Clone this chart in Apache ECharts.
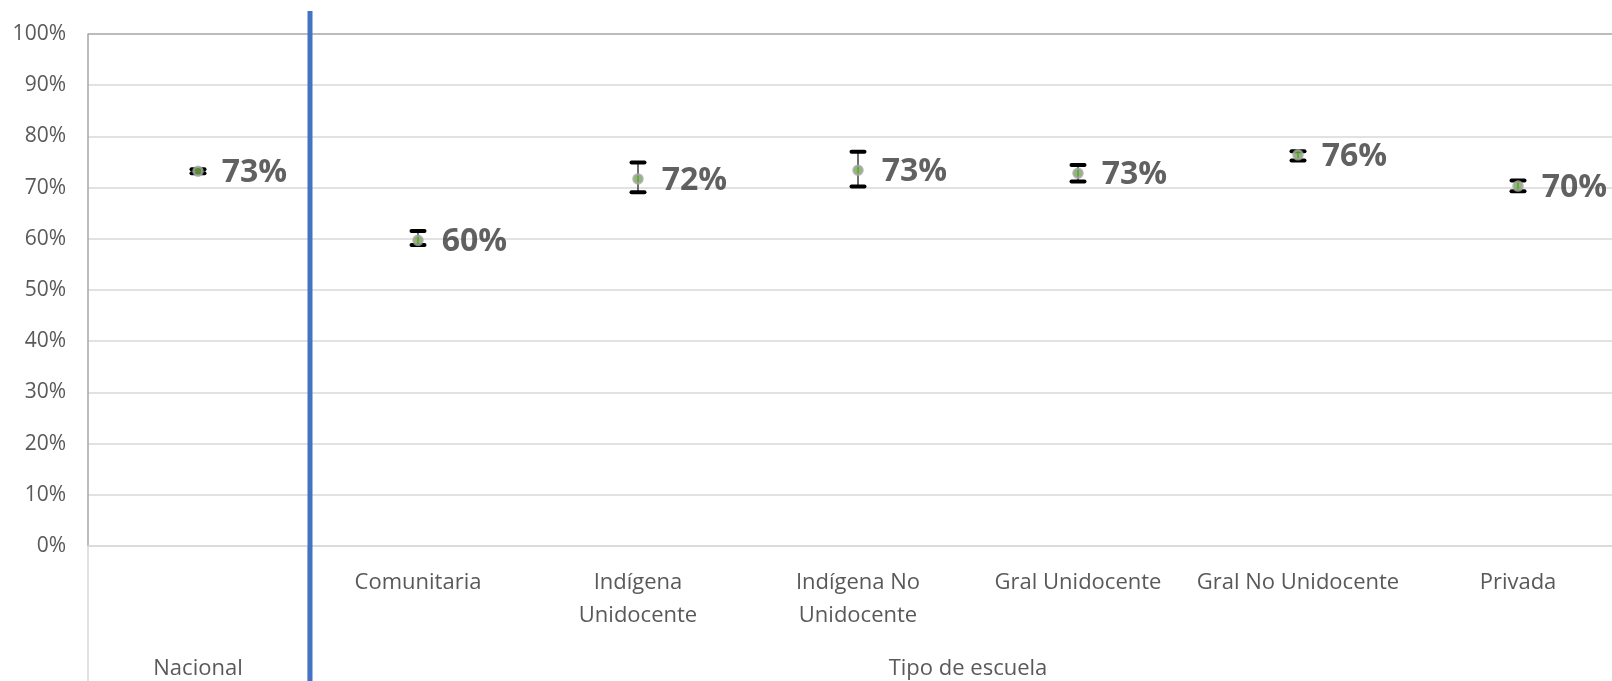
<!DOCTYPE html>
<html>
<head>
<meta charset="utf-8">
<script src="https://cdn.jsdelivr.net/npm/echarts@6/dist/echarts.min.js"></script>
<style>
  html, body { margin: 0; padding: 0; background: #fff; }
  #chart { width: 1612px; height: 681px; }
</style>
</head>
<body>
<div id="chart"></div>
<script>
// first-level categories (Nacional has no first-level label)
var categories = ['', 'Comunitaria', 'Indígena\nUnidocente', 'Indígena No\nUnidocente', 'Gral Unidocente', 'Gral No Unidocente', 'Privada']
// second-level groups: name, first category index, end index
var groupNames = ['Nacional', 'Tipo de escuela']
var groupStart = [0, 1]
var groupEnd = [1, 7]
// estimate and confidence interval (share)
var values = [0.732, 0.597, 0.717, 0.734, 0.728, 0.764, 0.703]
var lower = [0.728, 0.588, 0.691, 0.702, 0.712, 0.753, 0.693]
var upper = [0.736, 0.615, 0.749, 0.770, 0.744, 0.771, 0.714]
var yTicks = [0, 0.1, 0.2, 0.3, 0.4, 0.5, 0.6, 0.7, 0.8, 0.9, 1]

var font = 'Open Sans'

var chart = echarts.init(document.getElementById('chart'))

var errData = values.map(function (v, i) {
  return [i, lower[i], upper[i]]
})

var option = {
  animation: false,
  grid: {
    left: 88,
    top: 34,
    width: 1540,
    height: 512,
    outerBoundsMode: 'none'
  },
  xAxis: [
    {
      type: 'category',
      data: categories,
      boundaryGap: true,
      axisLine: { show: true, lineStyle: { color: '#d9d9d9', width: 1.5 } },
      axisTick: {
        show: true,
        length: 136,
        interval: function (index) {
          return index === 0 || index === 1
        },
        lineStyle: { color: '#d9d9d9', width: 1.5 }
      },
      axisLabel: {
        interval: 0,
        margin: 20,
        color: '#595959',
        fontFamily: font,
        fontSize: 22,
        lineHeight: 33
      }
    },
    {
      type: 'value',
      min: 0,
      max: 7,
      interval: 0.5,
      position: 'bottom',
      axisLine: { show: false },
      axisTick: { show: false },
      splitLine: { show: false },
      axisLabel: {
        margin: 110,
        color: '#595959',
        fontFamily: font,
        fontSize: 22,
        lineHeight: 26,
        formatter: function (v) {
          for (var g = 0; g < groupNames.length; g++) {
            if ((groupStart[g] + groupEnd[g]) / 2 === v) return groupNames[g]
          }
          return ''
        }
      }
    }
  ],
  yAxis: {
    type: 'value',
    min: yTicks[0],
    max: yTicks[yTicks.length - 1],
    interval: 0.1,
    axisLine: { show: true, lineStyle: { color: '#a6a6a6', width: 1.5 } },
    axisTick: { show: false },
    splitLine: {
      lineStyle: {
        color: ['#d9d9d9', '#d9d9d9', '#d9d9d9', '#d9d9d9', '#d9d9d9', '#d9d9d9', '#d9d9d9', '#d9d9d9', '#d9d9d9', '#d9d9d9', '#a6a6a6'],
        width: 1.5
      }
    },
    axisLabel: {
      margin: 22,
      color: '#595959',
      fontFamily: font,
      fontSize: 21,
      formatter: function (v) {
        return Math.round(v * 100) + '%'
      }
    }
  },
  series: [
    {
      type: 'custom',
      xAxisIndex: 0,
      data: errData,
      z: 3,
      renderItem: function (params, api) {
        var x = api.value(0)
        var lo = api.coord([x, api.value(1)])
        var hi = api.coord([x, api.value(2)])
        var cw = 13
        return {
          type: 'group',
          children: [
            {
              type: 'line',
              shape: { x1: lo[0], y1: lo[1], x2: hi[0], y2: hi[1] },
              style: { stroke: '#404040', lineWidth: 1.5 }
            },
            {
              type: 'line',
              shape: { x1: lo[0] - cw / 2, y1: lo[1], x2: lo[0] + cw / 2, y2: lo[1] },
              style: { stroke: '#000', lineWidth: 4, lineCap: 'round' }
            },
            {
              type: 'line',
              shape: { x1: hi[0] - cw / 2, y1: hi[1], x2: hi[0] + cw / 2, y2: hi[1] },
              style: { stroke: '#000', lineWidth: 4, lineCap: 'round' }
            }
          ]
        }
      }
    },
    {
      type: 'scatter',
      xAxisIndex: 0,
      data: values,
      z: 5,
      symbol: 'circle',
      symbolSize: 9,
      itemStyle: {
        color: '#70ad47',
        borderColor: '#a5a5a5',
        borderWidth: 2.5
      },
      label: {
        show: true,
        position: 'right',
        distance: 18,
        offset: [0, 2],
        color: '#3a3a3a',
        fontFamily: font,
        fontWeight: 'bold',
        fontSize: 32,
        formatter: function (p) {
          return Math.round(p.value * 100) + '%'
        }
      }
    }
  ]
}

chart.setOption(option)

// blue separator between "Nacional" and "Tipo de escuela"
var sepX = chart.convertToPixel({ xAxisIndex: 1 }, groupEnd[0]) + 2
chart.setOption({
  graphic: [
    {
      type: 'line',
      z: 100,
      shape: { x1: sepX, y1: 11, x2: sepX, y2: 681 },
      style: { stroke: '#4472c4', lineWidth: 5 }
    }
  ]
})
</script>
</body>
</html>
